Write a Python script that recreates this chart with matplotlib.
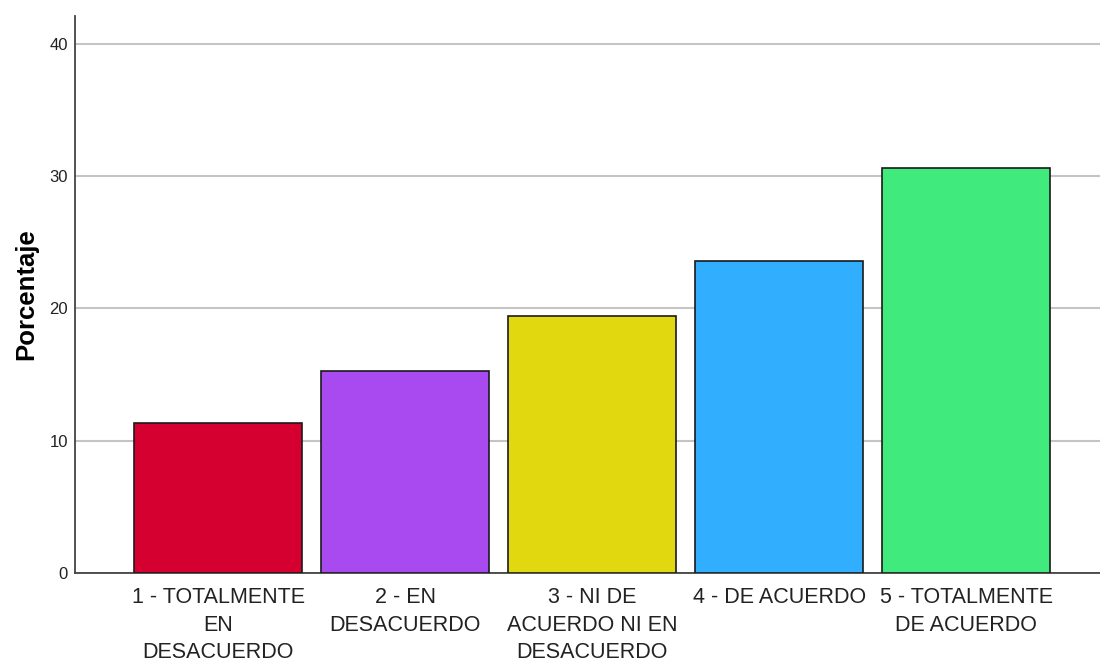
import matplotlib.pyplot as plt

# datos del grafico
categorias = ['1 - TOTALMENTE\nEN\nDESACUERDO', '2 - EN\nDESACUERDO',
              '3 - NI DE\nACUERDO NI EN\nDESACUERDO', '4 - DE ACUERDO',
              '5 - TOTALMENTE\nDE ACUERDO']
porcentajes = [11.3, 15.3, 19.4, 23.6, 30.6]
colores = ['#d5002f', '#a94af1', '#e2d810', '#31aefd', '#41ea7c']

fuente = ['Liberation Sans', 'DejaVu Sans']

fig = plt.figure(figsize=(11, 6.64), dpi=100)
ax = fig.add_axes([75/1100, 1 - 573/664, 1 - 75/1100, (573 - 16)/664])

x = list(range(len(categorias)))
ax.bar(x, porcentajes, width=0.9, color=colores, edgecolor='#1a1a1a', linewidth=1.2, zorder=3)

ax.set_ylim(0, 42.1)
ax.set_xlim(-0.766, 4.716)
ax.set_yticks([0, 10, 20, 30, 40])
ax.set_yticklabels(['0', '10', '20', '30', '40'], family=fuente, fontsize=12, color='#222222')
ax.set_xticks(x)
ax.set_xticklabels(categorias, family=fuente, fontsize=15.5, color='#222222', linespacing=1.42)
ax.tick_params(axis='both', length=0)
ax.tick_params(axis='x', pad=10)
ax.tick_params(axis='y', pad=5)

ax.yaxis.grid(True, color='#c4c4c4', linewidth=1.5, zorder=0)
for s in ['top', 'right']:
    ax.spines[s].set_visible(False)
ax.spines['left'].set_color('#444444')
ax.spines['bottom'].set_color('#444444')
ax.spines['left'].set_linewidth(1.3)
ax.spines['bottom'].set_linewidth(1.3)

ax.set_ylabel('Porcentaje', family=fuente, fontsize=18.5,
              fontweight='bold', labelpad=8)

fig.savefig('out.png', dpi=100)
